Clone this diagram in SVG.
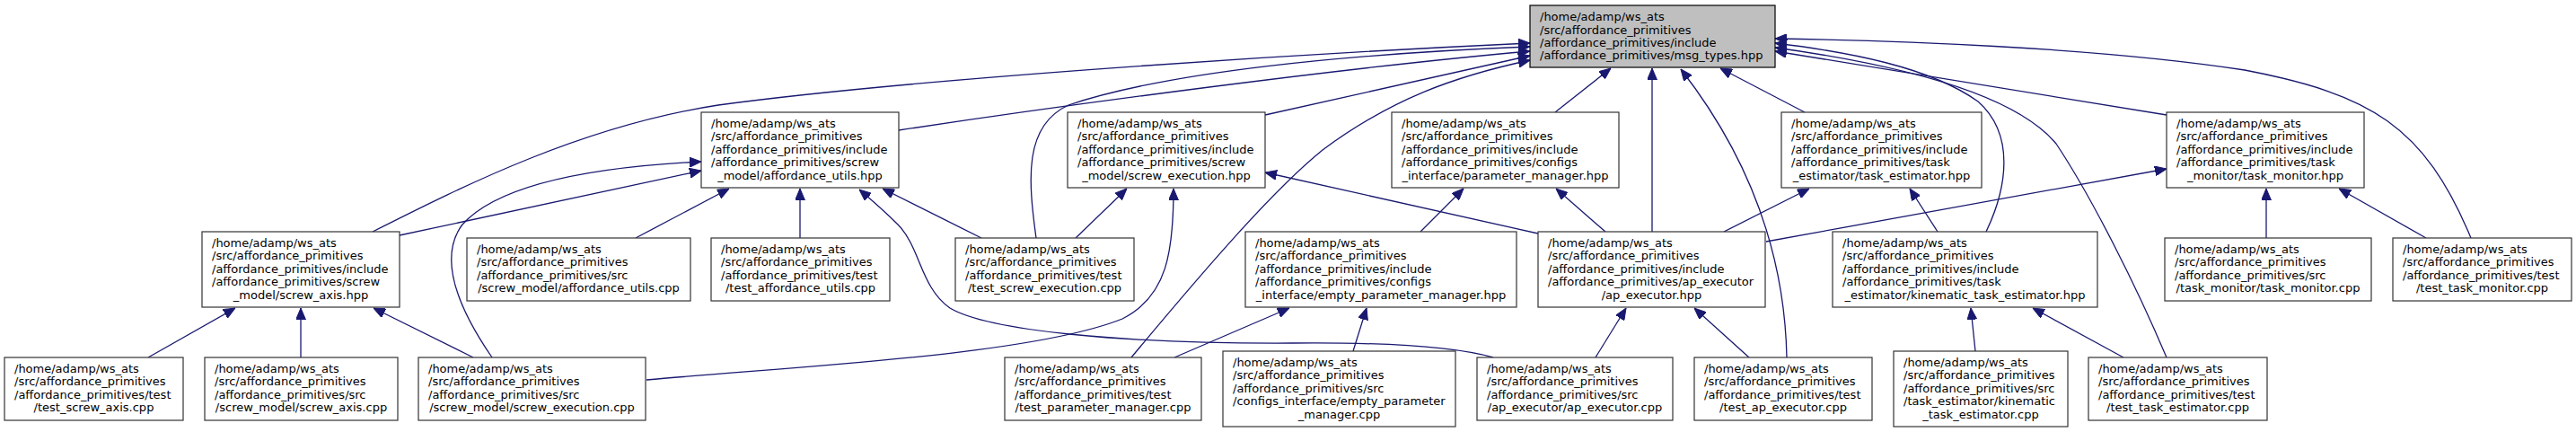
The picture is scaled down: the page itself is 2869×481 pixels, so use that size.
<svg xmlns="http://www.w3.org/2000/svg" width="2869" height="481" viewBox="0 0 2869 481">
<style>
.node rect{fill:#fff;stroke:#333;stroke-width:1.2}
.node.root rect{fill:#bfbfbf;stroke:#000}
.node text{font-family:"DejaVu Sans",sans-serif;font-size:13px;fill:#000}
.node text.c{text-anchor:middle}
#edges path{fill:none;stroke:#191970;stroke-width:1.3;marker-end:url(#ah)}
</style>
<defs>
<marker id="ah" viewBox="0 0 13 11" refX="13" refY="5.5" markerWidth="13" markerHeight="11" markerUnits="userSpaceOnUse" orient="auto">
<path d="M0,0 L13,5.5 L0,11 Z" fill="#191970" stroke="#191970" stroke-width="1"/>
</marker>
</defs>
<rect width="2869" height="481" fill="#fff"/>
<g id="edges">
<path d="M415,258 C520,205 650,140 800,117 C1000,90 1400,62 1704,48"/>
<path d="M1154,265 C1145,200 1140,140 1190,117 C1300,80 1500,60 1704,52"/>
<path d="M1001,145 C1200,115 1500,75 1704,57"/>
<path d="M1409,128 L1704,62"/>
<path d="M1260,398 C1350,290 1420,210 1473,167 C1550,110 1620,85 1704,67"/>
<path d="M1732,125 L1794,76"/>
<path d="M1840,258 L1840,76"/>
<path d="M1990,398 C1988,300 1960,190 1872,77"/>
<path d="M2010,125 L1916,76"/>
<path d="M2752,265 C2700,140 2640,105 2500,78 C2330,52 2100,45 1977,43"/>
<path d="M2212,258 C2235,210 2245,150 2203,113 C2150,75 2060,58 1977,48"/>
<path d="M2413,398 C2380,320 2330,220 2290,160 C2240,100 2100,70 1977,53"/>
<path d="M2413,128 L1977,57"/>
<path d="M445,262 L781,190"/>
<path d="M548,398 C515,350 485,290 515,250 C560,200 680,185 781,180"/>
<path d="M708,265 L812,210"/>
<path d="M891,265 L891,210"/>
<path d="M1093,265 L983,210"/>
<path d="M1663,398 C1620,386 1550,381 1440,382 C1250,383 1100,368 1058,343 C1025,320 1025,275 1000,250 C985,235 970,222 957,211"/>
<path d="M1198,265 L1255,210"/>
<path d="M720,423 C900,407 1150,395 1250,355 C1300,330 1307,280 1307,210"/>
<path d="M1713,260 L1409,192"/>
<path d="M1582,258 L1630,210"/>
<path d="M1788,258 L1733,210"/>
<path d="M1920,258 L2015,210"/>
<path d="M2158,258 L2127,210"/>
<path d="M1967,269 L2413,188"/>
<path d="M2524,265 L2524,210"/>
<path d="M2702,265 L2605,210"/>
<path d="M1777,398 L1811,343"/>
<path d="M1948,398 L1887,343"/>
<path d="M1507,391 L1522,343"/>
<path d="M1308,398 L1436,343"/>
<path d="M2200,391 L2195,343"/>
<path d="M2365,398 L2264,343"/>
<path d="M165,398 L262,343"/>
<path d="M335,398 L335,343"/>
<path d="M527,398 L416,343"/>
</g>
<g id="msg_types_hpp" class="node root">
<rect x="1704" y="6" width="273" height="69"/>
<text x="1715" y="23.2">/home/adamp/ws_ats</text>
<text x="1715" y="37.6">/src/affordance_primitives</text>
<text x="1715" y="52">/affordance_primitives/include</text>
<text x="1715" y="66.4">/affordance_primitives/msg_types.hpp</text>
</g>
<g id="affordance_utils_hpp" class="node">
<rect x="781" y="125" width="220" height="84"/>
<text x="792" y="142">/home/adamp/ws_ats</text>
<text x="792" y="156.4">/src/affordance_primitives</text>
<text x="792" y="170.8">/affordance_primitives/include</text>
<text x="792" y="185.2">/affordance_primitives/screw</text>
<text x="891" y="199.6" class="c">_model/affordance_utils.hpp</text>
</g>
<g id="screw_execution_hpp" class="node">
<rect x="1189" y="125" width="220" height="84"/>
<text x="1200" y="142">/home/adamp/ws_ats</text>
<text x="1200" y="156.4">/src/affordance_primitives</text>
<text x="1200" y="170.8">/affordance_primitives/include</text>
<text x="1200" y="185.2">/affordance_primitives/screw</text>
<text x="1299" y="199.6" class="c">_model/screw_execution.hpp</text>
</g>
<g id="parameter_manager_hpp" class="node">
<rect x="1550" y="125" width="253" height="84"/>
<text x="1561" y="142">/home/adamp/ws_ats</text>
<text x="1561" y="156.4">/src/affordance_primitives</text>
<text x="1561" y="170.8">/affordance_primitives/include</text>
<text x="1561" y="185.2">/affordance_primitives/configs</text>
<text x="1676.5" y="199.6" class="c">_interface/parameter_manager.hpp</text>
</g>
<g id="task_estimator_hpp" class="node">
<rect x="1984" y="125" width="223" height="84"/>
<text x="1995" y="142">/home/adamp/ws_ats</text>
<text x="1995" y="156.4">/src/affordance_primitives</text>
<text x="1995" y="170.8">/affordance_primitives/include</text>
<text x="1995" y="185.2">/affordance_primitives/task</text>
<text x="2095.5" y="199.6" class="c">_estimator/task_estimator.hpp</text>
</g>
<g id="task_monitor_hpp" class="node">
<rect x="2413" y="125" width="220" height="84"/>
<text x="2424" y="142">/home/adamp/ws_ats</text>
<text x="2424" y="156.4">/src/affordance_primitives</text>
<text x="2424" y="170.8">/affordance_primitives/include</text>
<text x="2424" y="185.2">/affordance_primitives/task</text>
<text x="2523" y="199.6" class="c">_monitor/task_monitor.hpp</text>
</g>
<g id="screw_axis_hpp" class="node">
<rect x="225" y="258" width="220" height="84"/>
<text x="236" y="275">/home/adamp/ws_ats</text>
<text x="236" y="289.4">/src/affordance_primitives</text>
<text x="236" y="303.8">/affordance_primitives/include</text>
<text x="236" y="318.2">/affordance_primitives/screw</text>
<text x="335" y="332.6" class="c">_model/screw_axis.hpp</text>
</g>
<g id="empty_parameter_manager_hpp" class="node">
<rect x="1387" y="258" width="302" height="84"/>
<text x="1398" y="275">/home/adamp/ws_ats</text>
<text x="1398" y="289.4">/src/affordance_primitives</text>
<text x="1398" y="303.8">/affordance_primitives/include</text>
<text x="1398" y="318.2">/affordance_primitives/configs</text>
<text x="1538" y="332.6" class="c">_interface/empty_parameter_manager.hpp</text>
</g>
<g id="ap_executor_hpp" class="node">
<rect x="1713" y="258" width="253" height="84"/>
<text x="1724" y="275">/home/adamp/ws_ats</text>
<text x="1724" y="289.4">/src/affordance_primitives</text>
<text x="1724" y="303.8">/affordance_primitives/include</text>
<text x="1724" y="318.2">/affordance_primitives/ap_executor</text>
<text x="1839.5" y="332.6" class="c">/ap_executor.hpp</text>
</g>
<g id="kinematic_task_estimator_hpp" class="node">
<rect x="2041" y="258" width="295" height="84"/>
<text x="2052" y="275">/home/adamp/ws_ats</text>
<text x="2052" y="289.4">/src/affordance_primitives</text>
<text x="2052" y="303.8">/affordance_primitives/include</text>
<text x="2052" y="318.2">/affordance_primitives/task</text>
<text x="2188.5" y="332.6" class="c">_estimator/kinematic_task_estimator.hpp</text>
</g>
<g id="affordance_utils_cpp" class="node">
<rect x="520" y="265" width="249" height="70"/>
<text x="531" y="282">/home/adamp/ws_ats</text>
<text x="531" y="296.4">/src/affordance_primitives</text>
<text x="531" y="310.8">/affordance_primitives/src</text>
<text x="644.5" y="325.2" class="c">/screw_model/affordance_utils.cpp</text>
</g>
<g id="test_affordance_utils_cpp" class="node">
<rect x="792" y="265" width="199" height="70"/>
<text x="803" y="282">/home/adamp/ws_ats</text>
<text x="803" y="296.4">/src/affordance_primitives</text>
<text x="803" y="310.8">/affordance_primitives/test</text>
<text x="891.5" y="325.2" class="c">/test_affordance_utils.cpp</text>
</g>
<g id="test_screw_execution_cpp" class="node">
<rect x="1064" y="265" width="199" height="70"/>
<text x="1075" y="282">/home/adamp/ws_ats</text>
<text x="1075" y="296.4">/src/affordance_primitives</text>
<text x="1075" y="310.8">/affordance_primitives/test</text>
<text x="1163.5" y="325.2" class="c">/test_screw_execution.cpp</text>
</g>
<g id="task_monitor_cpp" class="node">
<rect x="2411" y="265" width="230" height="70"/>
<text x="2422" y="282">/home/adamp/ws_ats</text>
<text x="2422" y="296.4">/src/affordance_primitives</text>
<text x="2422" y="310.8">/affordance_primitives/src</text>
<text x="2526" y="325.2" class="c">/task_monitor/task_monitor.cpp</text>
</g>
<g id="test_task_monitor_cpp" class="node">
<rect x="2665" y="265" width="199" height="70"/>
<text x="2676" y="282">/home/adamp/ws_ats</text>
<text x="2676" y="296.4">/src/affordance_primitives</text>
<text x="2676" y="310.8">/affordance_primitives/test</text>
<text x="2764.5" y="325.2" class="c">/test_task_monitor.cpp</text>
</g>
<g id="test_screw_axis_cpp" class="node">
<rect x="5" y="398" width="199" height="70"/>
<text x="16" y="415">/home/adamp/ws_ats</text>
<text x="16" y="429.4">/src/affordance_primitives</text>
<text x="16" y="443.8">/affordance_primitives/test</text>
<text x="104.5" y="458.2" class="c">/test_screw_axis.cpp</text>
</g>
<g id="screw_axis_cpp" class="node">
<rect x="228" y="398" width="215" height="70"/>
<text x="239" y="415">/home/adamp/ws_ats</text>
<text x="239" y="429.4">/src/affordance_primitives</text>
<text x="239" y="443.8">/affordance_primitives/src</text>
<text x="335.5" y="458.2" class="c">/screw_model/screw_axis.cpp</text>
</g>
<g id="screw_execution_cpp" class="node">
<rect x="466" y="398" width="253" height="70"/>
<text x="477" y="415">/home/adamp/ws_ats</text>
<text x="477" y="429.4">/src/affordance_primitives</text>
<text x="477" y="443.8">/affordance_primitives/src</text>
<text x="592.5" y="458.2" class="c">/screw_model/screw_execution.cpp</text>
</g>
<g id="test_parameter_manager_cpp" class="node">
<rect x="1119" y="398" width="219" height="70"/>
<text x="1130" y="415">/home/adamp/ws_ats</text>
<text x="1130" y="429.4">/src/affordance_primitives</text>
<text x="1130" y="443.8">/affordance_primitives/test</text>
<text x="1228.5" y="458.2" class="c">/test_parameter_manager.cpp</text>
</g>
<g id="empty_parameter_manager_cpp" class="node">
<rect x="1362" y="391" width="259" height="84"/>
<text x="1373" y="408">/home/adamp/ws_ats</text>
<text x="1373" y="422.4">/src/affordance_primitives</text>
<text x="1373" y="436.8">/affordance_primitives/src</text>
<text x="1373" y="451.2">/configs_interface/empty_parameter</text>
<text x="1491.5" y="465.6" class="c">_manager.cpp</text>
</g>
<g id="ap_executor_cpp" class="node">
<rect x="1645" y="398" width="218" height="70"/>
<text x="1656" y="415">/home/adamp/ws_ats</text>
<text x="1656" y="429.4">/src/affordance_primitives</text>
<text x="1656" y="443.8">/affordance_primitives/src</text>
<text x="1754" y="458.2" class="c">/ap_executor/ap_executor.cpp</text>
</g>
<g id="test_ap_executor_cpp" class="node">
<rect x="1887" y="398" width="198" height="70"/>
<text x="1898" y="415">/home/adamp/ws_ats</text>
<text x="1898" y="429.4">/src/affordance_primitives</text>
<text x="1898" y="443.8">/affordance_primitives/test</text>
<text x="1986" y="458.2" class="c">/test_ap_executor.cpp</text>
</g>
<g id="kinematic_task_estimator_cpp" class="node">
<rect x="2109" y="391" width="194" height="84"/>
<text x="2120" y="408">/home/adamp/ws_ats</text>
<text x="2120" y="422.4">/src/affordance_primitives</text>
<text x="2120" y="436.8">/affordance_primitives/src</text>
<text x="2120" y="451.2">/task_estimator/kinematic</text>
<text x="2206" y="465.6" class="c">_task_estimator.cpp</text>
</g>
<g id="test_task_estimator_cpp" class="node">
<rect x="2326" y="398" width="199" height="70"/>
<text x="2337" y="415">/home/adamp/ws_ats</text>
<text x="2337" y="429.4">/src/affordance_primitives</text>
<text x="2337" y="443.8">/affordance_primitives/test</text>
<text x="2425.5" y="458.2" class="c">/test_task_estimator.cpp</text>
</g>
</svg>
